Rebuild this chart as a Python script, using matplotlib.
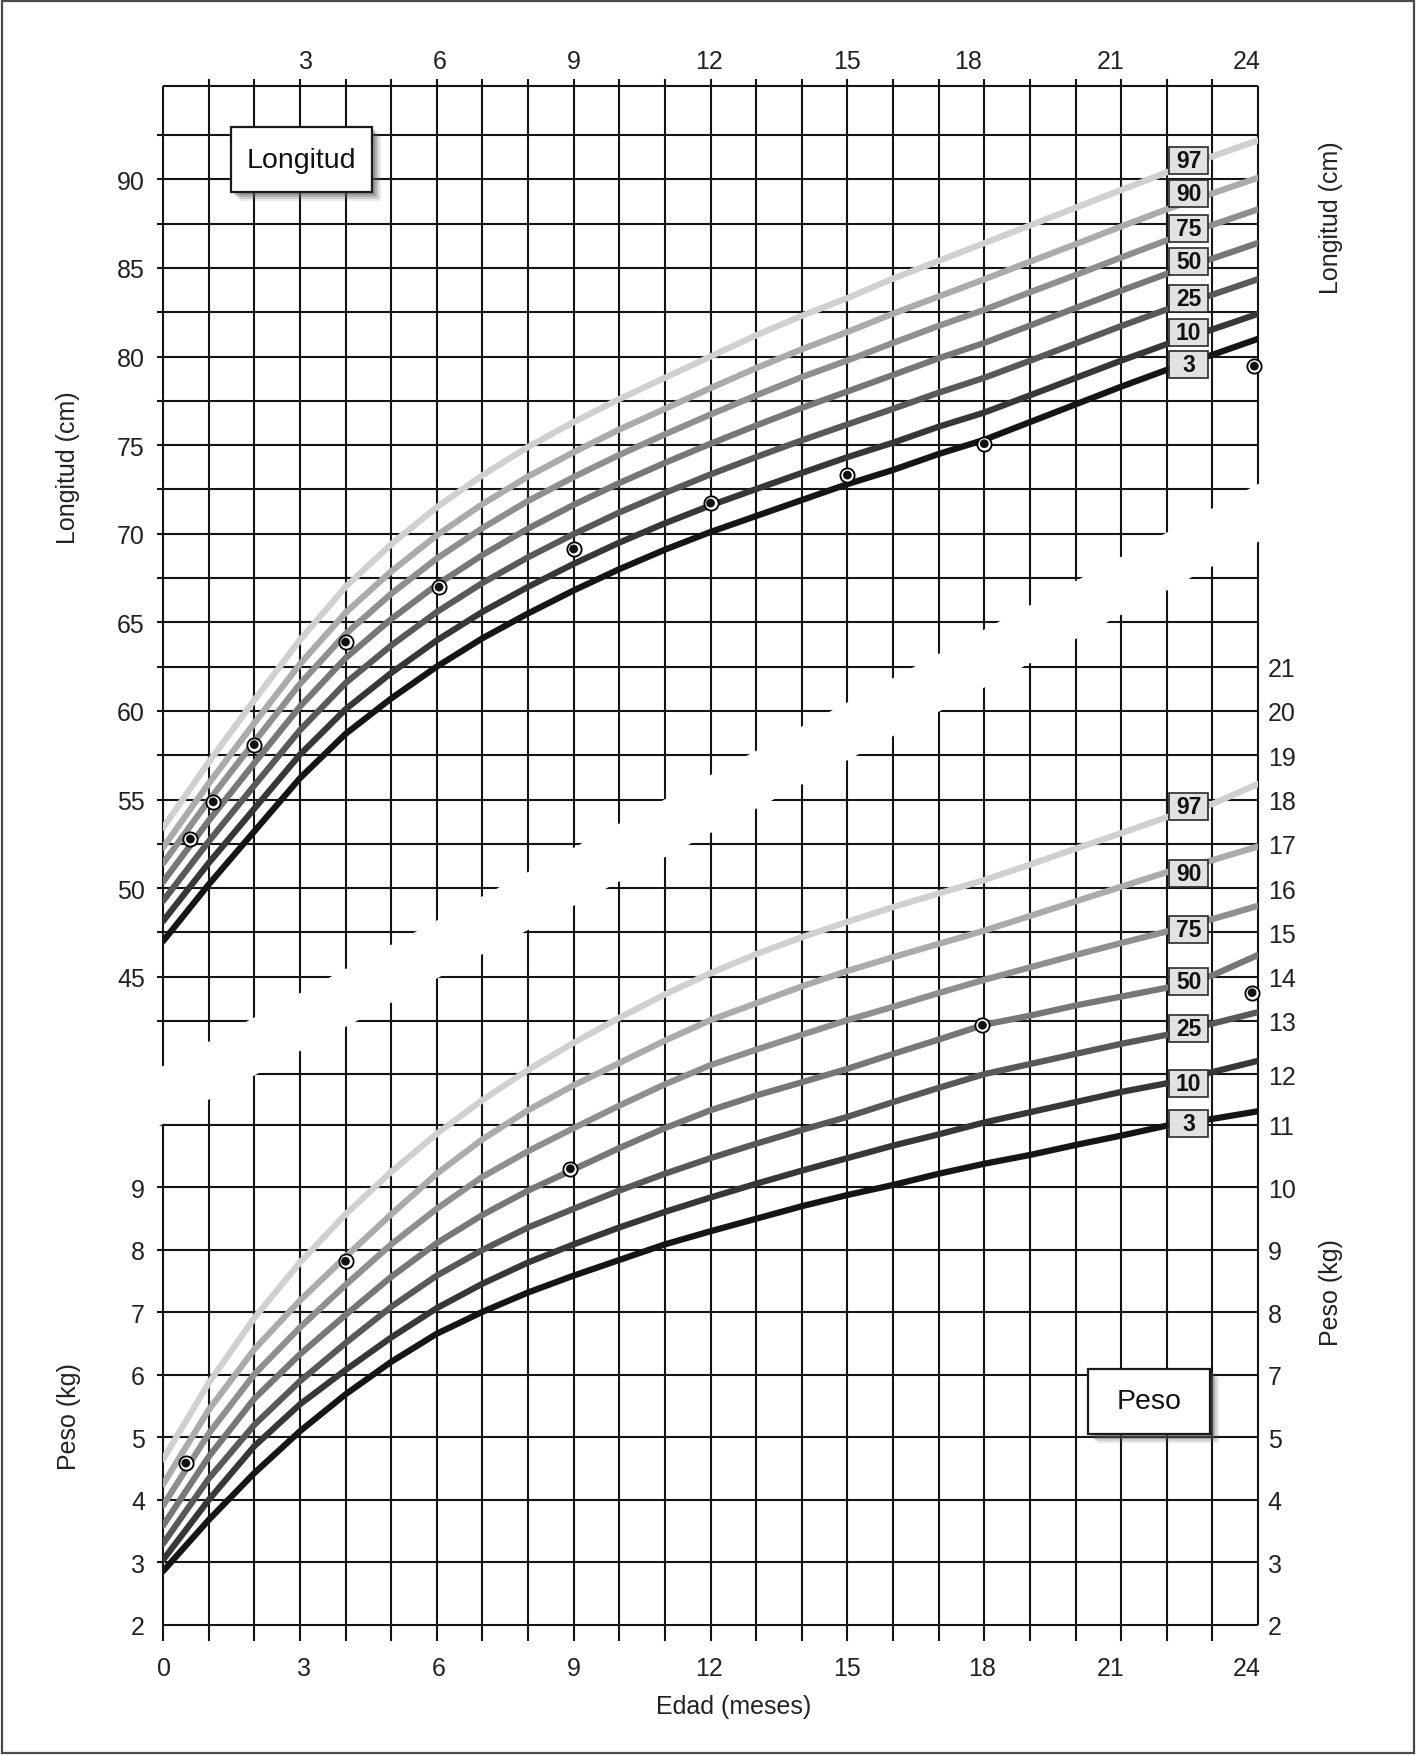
import numpy as np
import matplotlib
matplotlib.use('Agg')
import matplotlib.pyplot as plt
from matplotlib.patches import Rectangle, Polygon

plt.rcParams['font.family'] = ['Liberation Sans', 'DejaVu Sans']

# ---------------- data ----------------
AGES = list(range(0, 25))  # months

LEN_P3 = [47.0, 50.2, 53.2, 56.2, 58.7, 60.7, 62.5, 64.1, 65.5, 66.8, 68.0, 69.1, 70.1, 71.0, 71.9, 72.8, 73.6, 74.5, 75.3, 76.3, 77.3, 78.3, 79.25, 80.1, 81.0]
LEN_P10 = [48.13, 51.41, 54.48, 57.53, 60.09, 62.14, 63.98, 65.59, 67.0, 68.3, 69.5, 70.59, 71.6, 72.52, 73.43, 74.32, 75.14, 76.04, 76.84, 77.81, 78.79, 79.77, 80.7, 81.53, 82.41]
LEN_P25 = [49.27, 52.63, 55.79, 58.91, 61.57, 63.69, 65.58, 67.22, 68.67, 69.98, 71.2, 72.3, 73.35, 74.33, 75.27, 76.17, 77.05, 77.96, 78.8, 79.76, 80.74, 81.72, 82.66, 83.49, 84.37]
LEN_P50 = [50.35, 53.8, 57.05, 60.24, 62.98, 65.18, 67.12, 68.8, 70.29, 71.63, 72.86, 74.0, 75.08, 76.11, 77.1, 78.03, 78.96, 79.9, 80.77, 81.75, 82.74, 83.72, 84.67, 85.53, 86.41]
LEN_P75 = [51.39, 54.93, 58.25, 61.52, 64.34, 66.61, 68.6, 70.32, 71.85, 73.2, 74.45, 75.61, 76.73, 77.81, 78.84, 79.78, 80.77, 81.73, 82.64, 83.63, 84.6, 85.59, 86.56, 87.43, 88.31]
LEN_P90 = [52.29, 55.9, 59.31, 62.64, 65.54, 67.87, 69.91, 71.67, 73.23, 74.6, 75.88, 77.05, 78.22, 79.35, 80.41, 81.39, 82.42, 83.39, 84.36, 85.35, 86.34, 87.34, 88.31, 89.21, 90.09]
LEN_P97 = [53.4, 57.1, 60.6, 64.0, 67.0, 69.4, 71.5, 73.3, 74.9, 76.3, 77.6, 78.8, 80.0, 81.2, 82.3, 83.3, 84.4, 85.4, 86.4, 87.4, 88.4, 89.4, 90.4, 91.3, 92.2]

WT_P3 = [2.86, 3.68, 4.43, 5.10, 5.69, 6.21, 6.66, 7.01, 7.32, 7.59, 7.84, 8.09, 8.30, 8.50, 8.70, 8.88, 9.04, 9.22, 9.38, 9.52, 9.68, 9.83, 9.99, 10.12, 10.27]
WT_P10 = [3.04, 4.00, 4.86, 5.53, 6.08, 6.60, 7.07, 7.46, 7.80, 8.09, 8.36, 8.61, 8.84, 9.06, 9.27, 9.47, 9.67, 9.85, 10.05, 10.25, 10.45, 10.65, 10.82, 11.04, 11.25]
WT_P25 = [3.30, 4.34, 5.20, 5.90, 6.51, 7.09, 7.59, 8.00, 8.36, 8.66, 8.95, 9.22, 9.47, 9.70, 9.92, 10.16, 10.45, 10.73, 11.00, 11.19, 11.38, 11.57, 11.74, 11.95, 12.20]
WT_P50 = [3.59, 4.69, 5.62, 6.33, 6.96, 7.57, 8.11, 8.56, 8.95, 9.29, 9.63, 9.95, 10.29, 10.58, 10.84, 11.10, 11.38, 11.65, 11.93, 12.12, 12.35, 12.55, 12.75, 13.03, 13.49]
WT_P75 = [3.91, 5.06, 6.01, 6.76, 7.44, 8.09, 8.66, 9.17, 9.58, 9.95, 10.38, 10.80, 11.17, 11.46, 11.74, 12.02, 12.32, 12.63, 12.93, 13.21, 13.49, 13.76, 14.02, 14.30, 14.60]
WT_P90 = [4.25, 5.44, 6.41, 7.19, 7.89, 8.57, 9.22, 9.77, 10.29, 10.78, 11.21, 11.63, 12.02, 12.40, 12.78, 13.13, 13.44, 13.74, 14.04, 14.37, 14.70, 15.03, 15.36, 15.63, 15.94]
WT_P97 = [4.65, 5.87, 6.91, 7.80, 8.57, 9.25, 9.86, 10.49, 11.08, 11.59, 12.07, 12.60, 13.08, 13.51, 13.89, 14.24, 14.57, 14.88, 15.18, 15.53, 15.89, 16.24, 16.60, 16.90, 17.35]

LEN_DOT_AGE = [0.6, 1.1, 2.0, 4.0, 6.05, 9.0, 12.0, 15.0, 18.0, 23.92]
LEN_DOT_CM = [52.77, 54.87, 58.1, 63.89, 66.99, 69.14, 71.73, 73.31, 75.08, 79.46]
WT_DOT_AGE = [0.5, 4.0, 8.93, 17.96, 23.87]
WT_DOT_KG = [4.59, 7.82, 9.30, 11.92, 12.64]

PCT_NAMES = ['97', '90', '75', '50', '25', '10', '3']
PCT_COLORS = ['#d0d0d0', '#ababab', '#8f8f8f', '#777777', '#595959', '#373737', '#151515']
LEN_CURVES = [LEN_P97, LEN_P90, LEN_P75, LEN_P50, LEN_P25, LEN_P10, LEN_P3]
WT_CURVES = [WT_P97, WT_P90, WT_P75, WT_P50, WT_P25, WT_P10, WT_P3]

X_LABELS = ['0', '3', '6', '9', '12', '15', '18', '21', '24']
TOP_LABELS = ['3', '6', '9', '12', '15', '18', '21', '24']
LEN_TICKS = [45, 50, 55, 60, 65, 70, 75, 80, 85, 90]
WT_LEFT_TICKS = [2, 3, 4, 5, 6, 7, 8, 9]
WT_RIGHT_TICKS = [2, 3, 4, 5, 6, 7, 8, 9, 10, 11, 12, 13, 14, 15, 16, 17, 18, 19, 20]
WT_RIGHT_LABELS = ['2', '3', '4', '5', '7', '8', '9', '10', '11', '12', '13', '14',
                   '15', '16', '17', '18', '19', '20', '21']

# ---------------- layout ----------------
W, H = 1418, 1756
fig = plt.figure(figsize=(W / 100, H / 100), dpi=100)
fig.patch.set_facecolor('white')


def fx(px):
    return px / W


def fy(py):
    return 1 - py / H


L, R, T, B = 163, 1258, 87, 1626
ax = fig.add_axes([fx(L), fy(B), (R - L) / W, (B - T) / H])
YMIN, YMAX = 8.41, 95.27
ax.set_xlim(0, 24)
ax.set_ylim(YMIN, YMAX)

# weight scale shares the grid with the length scale (piecewise linear)
KG_KNOTS = [2, 10, 11, 12, 34]
CM_KNOTS = [8.41, 36.63, 39.5, 42.5, 97.5]


def kg2cm(v):
    return np.interp(v, KG_KNOTS, CM_KNOTS)


def cm2kg(v):
    return np.interp(v, CM_KNOTS, KG_KNOTS)


axw = ax.twinx()
axwl = ax.twinx()
for a in (axw, axwl):
    a.set_yscale('function', functions=(kg2cm, cm2kg))
    a.set_ylim(cm2kg(YMIN), cm2kg(YMAX))
for a in (ax, axw, axwl):
    for s in a.spines.values():
        s.set_visible(False)
    a.patch.set_visible(False)

TXT = '#222222'
FS = 18
# tick label positions as printed on the chart (slightly irregular)
X_LABEL_POS = [0.03, 3.1, 6.05, 9.0, 11.97, 15.0, 17.95, 20.76, 23.76]
TOP_LABEL_POS = [3.13, 6.07, 9.0, 11.97, 15.0, 17.64, 20.76, 23.76]
ax.set_xticks(X_LABEL_POS, X_LABELS)
ax.tick_params(axis='x', length=0, pad=22, labelsize=FS, labelcolor=TXT)
ax.set_yticks(LEN_TICKS)
ax.tick_params(axis='y', length=0, pad=13, labelsize=FS, labelcolor=TXT)
axw.set_yticks(WT_RIGHT_TICKS, WT_RIGHT_LABELS)
axw.yaxis.set_minor_locator(matplotlib.ticker.NullLocator())
axw.tick_params(axis='y', length=0, pad=7, labelsize=FS, labelcolor=TXT)
axwl.yaxis.tick_left()
axwl.set_yticks(WT_LEFT_TICKS)
axwl.yaxis.set_minor_locator(matplotlib.ticker.NullLocator())
axwl.tick_params(axis='y', length=0, pad=13, labelsize=FS, labelcolor=TXT)
top = ax.secondary_xaxis('top')
top.set_xticks(TOP_LABEL_POS, TOP_LABELS)
top.tick_params(length=0, pad=9, labelsize=FS, labelcolor=TXT)
for s in top.spines.values():
    s.set_visible(False)

# ---------------- grid ----------------
GC = '#141414'
GLW = 1.5
months = np.arange(0, 25)
ymins = [YMIN - 0.9 if m < 24 else YMIN for m in months]
ymaxs = [YMAX + 0.4 if 0 < m < 24 else YMAX for m in months]
ax.vlines(months, ymins, ymaxs, color=GC, lw=GLW, clip_on=False, zorder=1)
ax.hlines(np.arange(42.5, 93, 2.5), -0.13, 24, color=GC, lw=GLW, clip_on=False, zorder=1)
ax.hlines(YMAX, 0, 24, color=GC, lw=GLW, clip_on=False, zorder=1)
axw.hlines(np.arange(3, 12), -0.13, 24, color=GC, lw=GLW, clip_on=False, zorder=1)
axw.hlines(2, 0, 24, color=GC, lw=GLW, clip_on=False, zorder=1)

# white diagonal band separating the two charts
band = Polygon([(-0.35, 39.48), (24.35, 73.28), (24.35, 70.01), (-0.35, 36.21)],
               closed=True, facecolor='white', edgecolor='none',
               transform=ax.transData, zorder=2, clip_on=False)
axw.add_patch(band)

# ---------------- curves ----------------
for vals, col in zip(LEN_CURVES, PCT_COLORS):
    ax.plot(AGES, vals, color=col, lw=4.5, solid_capstyle='round',
            solid_joinstyle='round', zorder=3)
for vals, col in zip(WT_CURVES, PCT_COLORS):
    axw.plot(AGES, vals, color=col, lw=4.5, solid_capstyle='round',
             solid_joinstyle='round', zorder=3)

# percentile label boxes (layout positions in length units)
LEN_LABEL_Y = [91.06, 89.2, 87.25, 85.39, 83.3, 81.38, 79.55]
WT_LABEL_Y = [54.6, 50.84, 47.66, 44.72, 42.07, 38.97, 36.72]
BX0, BW, BH = 22.05, 0.855, 1.524
for target, ys in ((ax, LEN_LABEL_Y), (axw, WT_LABEL_Y)):
    for name, yc in zip(PCT_NAMES, ys):
        target.add_patch(Rectangle((BX0, yc - BH / 2), BW, BH, facecolor='#e2e2e2',
                                   edgecolor='#2a2a2a', lw=1.2, transform=ax.transData,
                                   zorder=5))
        target.text(BX0 + BW / 2, yc, name, ha='center', va='center', fontsize=16.5,
                    fontweight='bold', color='#111111', transform=ax.transData, zorder=6)

# measurements
for target, xs, ys in ((ax, LEN_DOT_AGE, LEN_DOT_CM), (axw, WT_DOT_AGE, WT_DOT_KG)):
    target.scatter(xs, ys, s=105, facecolor='white', edgecolor='black',
                   lw=1.3, zorder=7, clip_on=False)
    target.scatter(xs, ys, s=40, facecolor='#111111', edgecolor='none',
                   zorder=8, clip_on=False)


# ---------------- title boxes ----------------
def shadow_box(target, l, t, r, b, text):
    for k, alpha in ((9, 0.12), (7, 0.18), (5, 0.25), (3, 0.3)):
        target.add_patch(Rectangle((fx(l + k), fy(b + k)), (r - l) / W, (b - t) / H,
                                   facecolor='#555555', edgecolor='none', alpha=alpha,
                                   transform=fig.transFigure, zorder=8, clip_on=False))
    target.add_patch(Rectangle((fx(l), fy(b)), (r - l) / W, (b - t) / H,
                               facecolor='white', edgecolor='#1a1a1a', lw=1.6,
                               transform=fig.transFigure, zorder=9, clip_on=False))
    target.text(fx((l + r) / 2), fy((t + b) / 2), text, ha='center', va='center',
                fontsize=20.5, color='#111111', transform=fig.transFigure, zorder=10)


shadow_box(ax, 231, 128, 372, 193, 'Longitud')
shadow_box(axw, 1088, 1370, 1210, 1435, 'Peso')

# axis titles
fig.text(fx(734), fy(1707), 'Edad (meses)', ha='center', va='center', fontsize=FS, color=TXT)
fig.text(fx(68), fy(468), 'Longitud (cm)', ha='center', va='center', rotation=90,
         fontsize=FS, color=TXT)
fig.text(fx(69), fy(1417), 'Peso (kg)', ha='center', va='center', rotation=90,
         fontsize=FS, color=TXT)
fig.text(fx(1331), fy(218), 'Longitud (cm)', ha='center', va='center', rotation=90,
         fontsize=FS, color=TXT)
fig.text(fx(1331), fy(1293), 'Peso (kg)', ha='center', va='center', rotation=90,
         fontsize=FS, color=TXT)

# outer frame
fig.patches.append(Rectangle((fx(2), fy(1754)), (1414 - 2) / W, (1754 - 2) / H,
                             fill=False, edgecolor='#4a4a4a', lw=1.6,
                             transform=fig.transFigure))

fig.savefig('out.png', dpi=100)
